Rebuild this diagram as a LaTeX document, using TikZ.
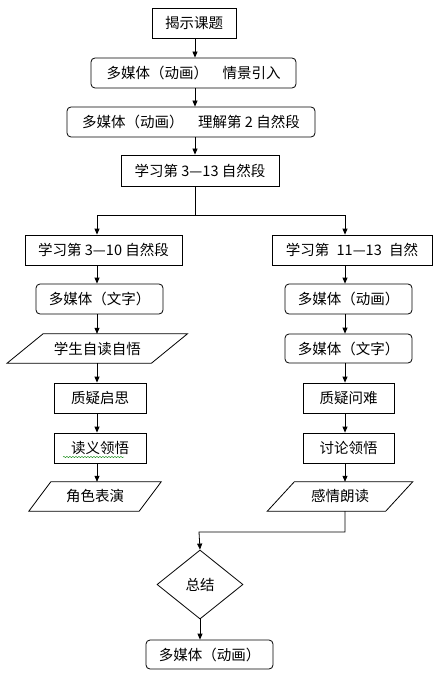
\documentclass[tikz,border=0pt]{standalone}
\usepackage{fontspec}
\newfontfamily\cjk{Noto Sans CJK SC}
\usetikzlibrary{arrows.meta,shapes.geometric,decorations.pathmorphing}
\begin{document}
\begin{tikzpicture}[x=1pt,y=-1pt,
  every node/.style={font=\cjk\fontsize{14.5}{17}\selectfont},
  rbox/.style={draw,line width=0.8pt,inner sep=0pt,minimum height=30pt},
  rrbox/.style={rbox,rounded corners=4pt},
  pbox/.style={inner sep=0pt,minimum height=29pt},
  arr/.style={line width=0.8pt,-{Triangle[length=6pt,width=5pt]}},
  ln/.style={line width=0.8pt}]
\useasboundingbox (0,0) rectangle (440,679);
% main column
\node[rbox,minimum width=84pt] (b1) at (194,23) {揭示课题};
\node[rrbox,minimum width=205pt] (b2) at (193.5,73) {多媒体（动画）\hspace{1em}情景引入};
\node[rrbox,minimum width=248pt] (b3) at (191,122) {多媒体（动画）\hspace{1em}理解第 2 自然段};
\node[rbox,minimum width=158pt,minimum height=31pt] (b4) at (200,170.5) {学习第 3—13 自然段};
\coordinate (C) at (195,0);
\draw[arr] (b1.south -| C) -- (b2.north -| C);
\draw[arr] (b2.south -| C) -- (b3.north -| C);
\draw[arr] (b3.south -| C) -- (b4.north -| C);
% branches
\coordinate (L) at (97,215);
\coordinate (R) at (345,215);
\node[rbox,minimum width=157pt] (b5) at (103.5,250) {学习第 3—10 自然段};
\node[rbox,minimum width=160pt] (b6) at (352,250) {学习第\hspace{0.5em}11—13\hspace{0.5em}自然};
\draw[ln] (b4.south -| C) -- (C |- L);
\draw[arr] (L) -| (b5.north -| L);
\draw[arr] (L) -- (R) -- (b6.north -| R);
% left column
\node[rrbox,minimum width=127pt] (b7) at (99.5,299) {多媒体（文字）};
\node[pbox,minimum width=144pt] (p1) at (97.25,348.5) {学生自读自悟};
\draw[ln] ([xshift=18pt]p1.north west) -- ([xshift=18pt]p1.north east) -- ([xshift=-18pt]p1.south east) -- ([xshift=-18pt]p1.south west) -- cycle;
\node[rbox,minimum width=92pt] (b10) at (100,398) {质疑启思};
\node[rbox,minimum width=92pt] (b12) at (100,448) {读义领悟};
\draw[green!50!black,line width=0.4pt,decorate,decoration={snake,amplitude=0.6pt,segment length=3pt}] (63,457) -- (124,457);
\node[pbox,minimum width=110pt] (p2) at (95,496.5) {角色表演};
\draw[ln] ([xshift=11pt]p2.north west) -- ([xshift=11pt]p2.north east) -- ([xshift=-11pt]p2.south east) -- ([xshift=-11pt]p2.south west) -- cycle;
\draw[arr] (b5.south -| L) -- (b7.north -| L);
\draw[arr] (b7.south -| L) -- (p1.north -| L);
\draw[arr] (p1.south -| L) -- (b10.north -| L);
\draw[arr] (b10.south -| L) -- (b12.north -| L);
\draw[arr] (b12.south -| L) -- (p2.north -| L);
% right column
\node[rrbox,minimum width=127pt] (b8) at (348.5,299) {多媒体（动画）};
\node[rrbox,minimum width=127pt,minimum height=29pt] (b9) at (348.5,348.5) {多媒体（文字）};
\node[rbox,minimum width=91pt] (b11) at (348.5,398) {质疑问难};
\node[rbox,minimum width=91pt] (b13) at (348.5,448) {讨论领悟};
\node[pbox,minimum width=118pt] (p3) at (340,496.5) {感情朗读};
\draw[ln] ([xshift=13.5pt]p3.north west) -- ([xshift=13.5pt]p3.north east) -- ([xshift=-13.5pt]p3.south east) -- ([xshift=-13.5pt]p3.south west) -- cycle;
\draw[arr] (b6.south -| R) -- (b8.north -| R);
\draw[arr] (b8.south -| R) -- (b9.north -| R);
\draw[arr] (b9.south -| R) -- (b11.north -| R);
\draw[arr] (b11.south -| R) -- (b13.north -| R);
\draw[arr] (b13.south -| R) -- (p3.north -| R);
% merge
\node[draw,line width=0.8pt,shape=diamond,aspect=1.25,minimum width=86pt,minimum height=69pt,inner sep=0pt] (d) at (200,584.5) {总结};
\node[rrbox,minimum width=127pt,minimum height=29pt] (bf) at (209.5,654.5) {多媒体（动画）};
\coordinate (M) at (199,532);
\draw[arr] (p3.south -| R) -- (R |- M) -- (M) -- (d.north);
\draw[arr] (d.south) -- (bf.north -| d.south);
\end{tikzpicture}
\end{document}
